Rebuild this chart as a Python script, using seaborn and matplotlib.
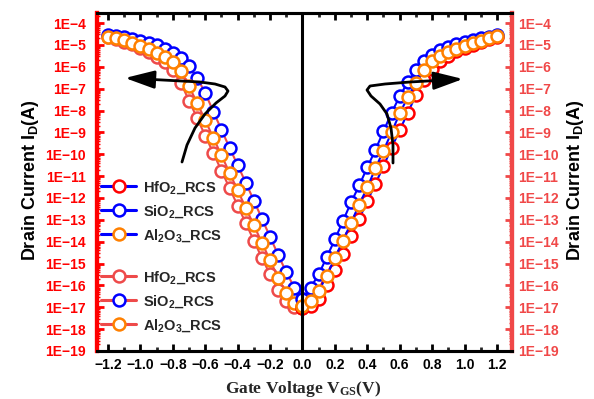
import numpy as np
import pandas as pd
import matplotlib
matplotlib.use("Agg")
import matplotlib.pyplot as plt
import seaborn as sns
from matplotlib.lines import Line2D
from matplotlib.patches import FancyArrowPatch
from matplotlib.path import Path
from matplotlib.ticker import MultipleLocator, FixedLocator, FuncFormatter, LogLocator, NullFormatter

# ---------------- data (log10 of drain current) ----------------
vgs_left = [-1.20, -1.15, -1.10, -1.05, -1.00, -0.95, -0.90, -0.85, -0.80, -0.75,
            -0.70, -0.65, -0.60, -0.55, -0.50, -0.45, -0.40, -0.35, -0.30, -0.25,
            -0.20, -0.15, -0.10, -0.05, 0.00]
vgs_right = [0.00, 0.05, 0.10, 0.15, 0.20, 0.25, 0.30, 0.35, 0.40, 0.45,
             0.50, 0.55, 0.60, 0.65, 0.70, 0.75, 0.80, 0.85, 0.90, 0.95,
             1.00, 1.05, 1.10, 1.15, 1.20]

hfo2_left_log = [-4.66, -4.74, -4.85, -4.98, -5.14, -5.32, -5.54, -5.80, -6.15, -6.75,
                 -7.55, -8.35, -9.15, -9.95, -10.75, -11.55, -12.35, -13.15, -13.95, -14.75,
                 -15.50, -16.20, -16.70, -17.00, -17.05]
sio2_left_log = [-4.56, -4.60, -4.65, -4.72, -4.80, -4.90, -5.02, -5.17, -5.36, -5.62,
                 -5.98, -6.50, -7.20, -8.05, -8.88, -9.70, -10.50, -11.30, -12.12, -12.95,
                 -13.78, -14.60, -15.40, -16.10, -16.60]
al2o3_left_log = [-4.64, -4.70, -4.79, -4.90, -5.03, -5.18, -5.35, -5.55, -5.80, -6.20,
                  -6.90, -7.65, -8.45, -9.25, -10.05, -10.85, -11.65, -12.45, -13.25, -14.05,
                  -14.85, -15.65, -16.35, -16.80, -16.95]

hfo2_right_log = [-17.05, -16.95, -16.60, -16.00, -15.30, -14.55, -13.75, -12.95, -12.15, -11.35,
                  -10.55, -9.70, -8.90, -8.10, -7.30, -6.60, -6.10, -5.75, -5.50, -5.30,
                  -5.14, -5.00, -4.86, -4.74, -4.64]
sio2_right_log = [-16.60, -16.10, -15.50, -14.70, -13.90, -13.05, -12.20, -11.43, -10.60, -9.80,
                  -8.95, -8.10, -7.35, -6.70, -6.15, -5.75, -5.45, -5.25, -5.08, -4.95,
                  -4.85, -4.76, -4.68, -4.62, -4.56]
al2o3_right_log = [-16.95, -16.70, -16.25, -15.56, -14.73, -13.95, -13.13, -12.30, -11.52, -10.65,
                   -9.83, -9.00, -8.13, -7.39, -6.75, -6.16, -5.75, -5.50, -5.32, -5.17,
                   -5.04, -4.92, -4.80, -4.70, -4.60]

series_labels = ["HfO$_2$_RCS", "SiO$_2$_RCS", "Al$_2$O$_3$_RCS"]
y_tick_exponents = list(range(-4, -20, -1))
x_ticks = [-1.2, -1.0, -0.8, -0.6, -0.4, -0.2, 0.0, 0.2, 0.4, 0.6, 0.8, 1.0, 1.2]

# ---------------- style ----------------
sns.set_style("ticks")
plt.rcParams["font.family"] = ["Liberation Sans", "DejaVu Sans"]
plt.rcParams["font.weight"] = "bold"
plt.rcParams["mathtext.fontset"] = "custom"
plt.rcParams["mathtext.rm"] = "Liberation Sans:bold"
plt.rcParams["mathtext.it"] = "Liberation Sans:bold"
plt.rcParams["mathtext.bf"] = "Liberation Sans:bold"
plt.rcParams["mathtext.sf"] = "Liberation Serif:bold"
plt.rcParams["mathtext.default"] = "rm"

RED = "#ff0000"
LRED = "#ee4a4a"
BLUE = "#0000ff"
ORANGE = "#ff8000"
RAXIS = "#f04848"

W, H = 594, 399
fig = plt.figure(figsize=(W / 100, H / 100), dpi=100)
L, R, T, B = 97, 512, 13, 351
ax = fig.add_axes([L / W, 1 - B / H, (R - L) / W, (B - T) / H])
ax.set_yscale("log")
ax2 = ax.twinx()
ax2.set_yscale("log")

ms, mew = 8.6, 1.8


def draw(axis, x, logs, mcolor, lcolor):
    df = pd.DataFrame({"V": x, "I": np.power(10.0, np.array(logs))})
    sns.lineplot(data=df, x="V", y="I", ax=axis, color=lcolor, linewidth=1.5,
                 marker="o", markersize=ms, markerfacecolor="white",
                 markeredgecolor=mcolor, markeredgewidth=mew, sort=False,
                 legend=False)


# left branch (left axis) - light red connecting lines
draw(ax, vgs_left, hfo2_left_log, LRED, LRED)
draw(ax, vgs_left, sio2_left_log, BLUE, LRED)
draw(ax, vgs_left, al2o3_left_log, ORANGE, LRED)
# right branch (right axis) - blue connecting lines
draw(ax2, vgs_right, hfo2_right_log, RED, BLUE)
draw(ax2, vgs_right, sio2_right_log, BLUE, BLUE)
draw(ax2, vgs_right, al2o3_right_log, ORANGE, BLUE)

ylo, yhi = 1e-19, 10 ** -3.54
for a in (ax, ax2):
    a.set_ylim(ylo, yhi)
    a.set_xlim(-1.268, 1.293)
    a.set_xlabel("")
    a.set_ylabel("")

ax2.axvline(0, color="black", lw=2.2, zorder=10)

# ticks
ax.xaxis.set_major_locator(FixedLocator(x_ticks))
ax.xaxis.set_minor_locator(MultipleLocator(0.1))
ax.xaxis.set_major_formatter(FuncFormatter(lambda v, p: f"{v:.1f}".replace("-", "\u2212") if abs(v) > 1e-9 else "0.0"))
ax.tick_params(axis="x", which="major", direction="in", length=5, width=2, top=True,
               labelsize=10, pad=5, colors="black")
ax.tick_params(axis="x", which="minor", direction="in", length=3, width=2, top=True)

yfmt = FuncFormatter(lambda v, p: f"1E\u2212{-int(round(np.log10(v)))}")
for a, col, side, pad in ((ax, RED, "left", 8), (ax2, RAXIS, "right", 4.5)):
    a.yaxis.set_major_locator(FixedLocator([10.0 ** e for e in y_tick_exponents]))
    a.yaxis.set_minor_locator(LogLocator(base=10, subs=np.arange(2, 10), numticks=100))
    a.yaxis.set_minor_formatter(NullFormatter())
    a.yaxis.set_major_formatter(yfmt)
    a.tick_params(axis="y", which="major", direction="in", length=5, width=2,
                  color=col, labelcolor=col, labelsize=10, pad=pad)
    a.tick_params(axis="y", which="minor", direction="in", length=2, width=1, color=col)
for lab in ax.get_yticklabels() + ax2.get_yticklabels() + ax.get_xticklabels():
    lab.set_fontweight("bold")

for a in (ax, ax2):
    a.spines["top"].set_color("black")
    a.spines["bottom"].set_color("black")
    a.spines["top"].set_linewidth(2.2)
    a.spines["bottom"].set_linewidth(2.2)
    a.spines["left"].set_color(RED)
    a.spines["left"].set_linewidth(3)
    a.spines["right"].set_color(RAXIS)
    a.spines["right"].set_linewidth(3)

# axis titles
fig.text(31 / W, 1 - 180 / H, "Drain Current I$_\\mathrm{D}$(A)", rotation=90,
         ha="center", va="center", fontsize=13, fontweight="bold", color="black")
fig.text(575 / W, 1 - 180 / H, "Drain Current I$_\\mathrm{D}$(A)", rotation=90,
         ha="center", va="center", fontsize=13, fontweight="bold", color="black")
fig.text(303 / W, 1 - 393 / H, "Gate Voltage V$_{\\mathsf{GS}}$(V)", ha="center",
         va="baseline", fontsize=12.5, fontweight="bold", family="Liberation Serif")

# arrows (pixel positions -> axes fraction)
def to_axes(pts):
    return [((x - L) / (R - L), (B - y) / (B - T)) for x, y in pts]

left_arrow = [(182, 162), (187, 145), (195, 128), (205, 114), (216, 103), (225, 96),
              (228, 91), (225, 87), (215, 84), (200, 82), (125, 78)]
right_arrow = [(393, 163), (393, 145), (391, 128), (387, 114), (380, 104), (371, 96),
               (367, 90), (370, 86), (385, 84), (410, 82), (463, 79)]
for pts in (left_arrow, right_arrow):
    path = Path(to_axes(pts))
    arr = FancyArrowPatch(path=path, transform=ax2.transAxes, arrowstyle="-|>,head_length=1.8,head_width=0.55",
                          mutation_scale=10, color="black", lw=2.0, zorder=12)
    ax2.add_patch(arr)

# legends
def handles(line_color, marker_colors):
    return [Line2D([0], [0], color=line_color, lw=2.2, marker="o", markersize=ms,
                   markerfacecolor="white", markeredgecolor=mc, markeredgewidth=mew)
            for mc in marker_colors]

leg_kw = dict(frameon=False, loc="upper left", bbox_transform=fig.transFigure,
              prop={"weight": "bold", "size": 10.5}, handlelength=2.4,
              handletextpad=0.5, labelspacing=0.5, borderpad=0, borderaxespad=0)
leg1 = ax2.legend(handles(BLUE, [RED, BLUE, ORANGE]), series_labels,
                  bbox_to_anchor=(101 / W, 1 - 179 / H), **leg_kw)
ax2.add_artist(leg1)
leg2 = ax2.legend(handles(LRED, [LRED, BLUE, ORANGE]), series_labels,
                  bbox_to_anchor=(101 / W, 1 - 269 / H), **leg_kw)
leg1.set_zorder(20)
leg2.set_zorder(20)

fig.savefig("out.png", dpi=100)
